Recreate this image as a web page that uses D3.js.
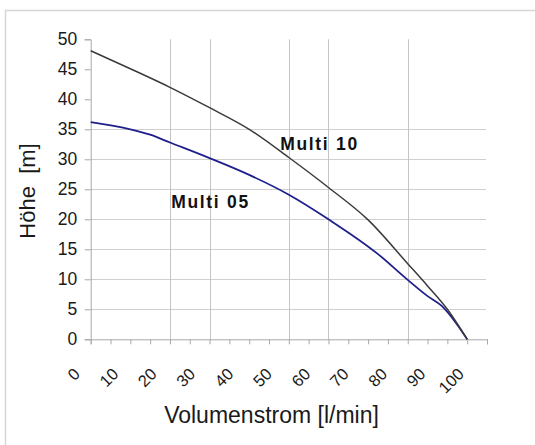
<!DOCTYPE html>
<html>
<head>
<meta charset="utf-8">
<script src="https://cdn.jsdelivr.net/npm/d3@7/dist/d3.min.js"></script>
<style>
  html, body { margin: 0; padding: 0; background: #ffffff; }
  svg { display: block; font-family: "Liberation Sans", Arial, sans-serif; }
</style>
</head>
<body>
<svg id="chart" width="535" height="445"></svg>
<script>
// ---- data ----
const multi10X = [0, 10, 20, 30, 40, 50, 60, 70, 80, 85, 90, 95];
const multi10Y = [48.1, 45.1, 42.0, 38.6, 35.0, 30.3, 25.3, 19.9, 12.6, 8.9, 5.0, 0];
const multi05X = [0, 10, 15, 20, 30, 40, 50, 60, 72.5, 80, 85, 88.5, 95];
const multi05Y = [36.2, 35.0, 34.1, 32.8, 30.2, 27.4, 24.1, 20.0, 14.2, 9.9, 7.2, 5.6, 0];
const xTickValues = [0,5,10,15,20,25,30,35,40,45,50,55,60,65,70,75,80,85,90,95,100];
const xTickLabels = ["0","10","20","30","40","50","60","70","80","90","100"];
const yTickValues = [0,5,10,15,20,25,30,35,40,45,50];
const xGridValues = [20, 30, 50, 60, 80];
const yGridValues = [5, 10, 15, 20, 25, 30, 35];
const seriesNames = ["Multi 10", "Multi 05"];
const labelX = [47.8, 20.3];
const labelY = [31.6, 21.9];
const xTitle = "Volumenstrom [l/min]";
const yTitle = "Höhe\u00a0 [m]";

// ---- layout ----
const svg = d3.select("#chart");
const x = d3.scaleLinear().domain([0, 100]).range([90.7, 487]);
const y = d3.scaleLinear().domain([0, 50]).range([339.3, 39.3]);
const xLabelPos = d3.scaleLinear().domain([0, 100]).range([81, 465]);

// frame
svg.append("rect").attr("x", 5.5).attr("y", 10.5).attr("width", 600).attr("height", 500)
  .attr("fill", "none").attr("stroke", "#d6d6d6").attr("stroke-width", 1.5);

// gridlines
svg.append("g").selectAll("line").data(yGridValues).join("line")
  .attr("x1", x(0)).attr("x2", 486)
  .attr("y1", d => Math.round(y(d)) + 0.5).attr("y2", d => Math.round(y(d)) + 0.5)
  .attr("stroke", "#cfcfcf").attr("stroke-width", 1);
svg.append("g").selectAll("line").data(xGridValues).join("line")
  .attr("y1", y(0)).attr("y2", y(50))
  .attr("x1", d => Math.round(x(d)) + 0.5).attr("x2", d => Math.round(x(d)) + 0.5)
  .attr("stroke", "#c4c4c4").attr("stroke-width", 1);

// axes
const yAxis = d3.axisLeft(y).tickValues(yTickValues).tickSize(6).tickPadding(8).tickFormat(d3.format("d"));
const gy = svg.append("g").attr("transform", `translate(${x(0)},0)`).call(yAxis);
gy.select(".domain").attr("stroke", "#a8a8a8");
gy.selectAll(".tick line").attr("stroke", "#a8a8a8");
gy.selectAll(".tick text").attr("font-size", 17.5).attr("fill", "#1a1a1a")
  .attr("font-family", "Liberation Sans, Arial, sans-serif").attr("x", -13.5);

const xAxis = d3.axisBottom(x).tickValues(xTickValues).tickSize(5).tickFormat("");
const gx = svg.append("g").attr("transform", `translate(0,${y(0)})`).call(xAxis);
gx.select(".domain").attr("stroke", "#a8a8a8");
gx.selectAll(".tick line").attr("stroke", "#a8a8a8");

// rotated x labels
svg.append("g").selectAll("text").data(xTickLabels).join("text")
  .attr("transform", d => `translate(${xLabelPos(+d)},375) rotate(-45)`)
  .attr("text-anchor", "end")
  .attr("font-size", 16.5)
  .attr("fill", "#1a1a1a")
  .text(d => d);

// lines
const line = d3.line().x(d => x(d[0])).y(d => y(d[1])).curve(d3.curveMonotoneX);
svg.append("path").datum(d3.zip(multi05X, multi05Y))
  .attr("d", line).attr("fill", "none").attr("stroke", "#1f1f8c").attr("stroke-width", 1.8);
svg.append("path").datum(d3.zip(multi10X, multi10Y))
  .attr("d", line).attr("fill", "none").attr("stroke", "#3a3a3a").attr("stroke-width", 1.5);

// series labels
svg.append("g").selectAll("text").data(seriesNames).join("text")
  .attr("x", (d, i) => x(labelX[i]))
  .attr("y", (d, i) => y(labelY[i]))
  .attr("font-size", 17.5).attr("font-weight", "bold").attr("fill", "#111")
  .attr("textLength", 77).attr("lengthAdjust", "spacing")
  .text(d => d);

// axis titles
svg.append("text").attr("x", 271.5).attr("y", 423).attr("text-anchor", "middle")
  .attr("font-size", 23).attr("fill", "#1a1a1a").text(xTitle);
svg.append("text").attr("transform", "translate(35,191) rotate(-90)").attr("text-anchor", "middle")
  .attr("font-size", 22).attr("fill", "#1a1a1a").text(yTitle);
</script>
</body>
</html>
